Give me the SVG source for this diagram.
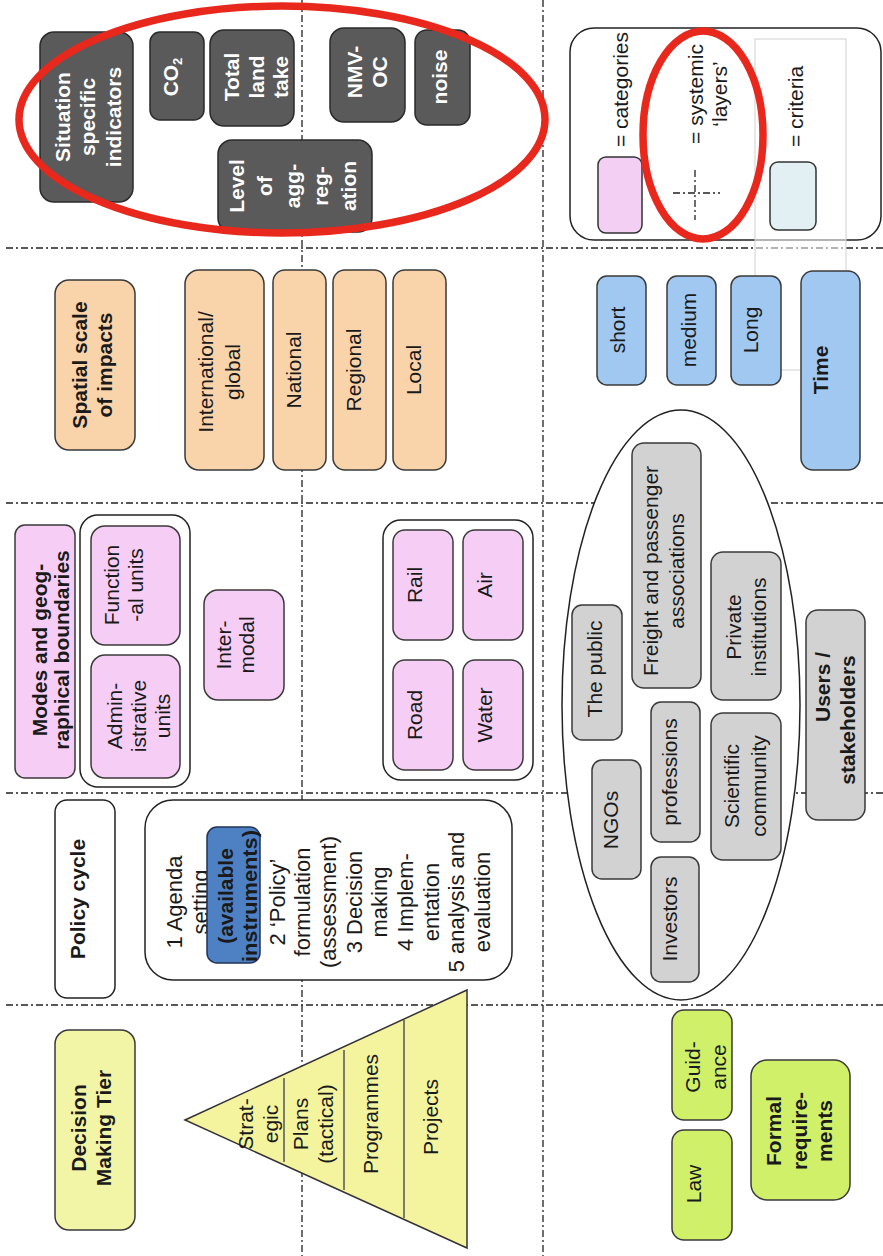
<svg xmlns="http://www.w3.org/2000/svg" width="883" height="1256" viewBox="0 0 883 1256">
<style>
text{font-family:"Liberation Sans",Arial,sans-serif;font-size:21px;fill:#1a1a1a;text-anchor:middle}
.b{font-weight:bold}
.w{fill:#fff}
.st{text-anchor:start}
.pc{font-size:22px}
.grid{stroke:#222;stroke-width:1.3;stroke-dasharray:7 3 2 3;fill:none}
.dk{fill:#5a5a5a;stroke:#2a2a2a;stroke-width:1.5}
.pe{fill:#f9d4ab;stroke:#3a3a3a;stroke-width:1.5}
.pk{fill:#f6cef5;stroke:#3a3a3a;stroke-width:1.5}
.bl{fill:#a0c8f0;stroke:#3a3a3a;stroke-width:1.5}
.gr{fill:#d2d2d2;stroke:#3a3a3a;stroke-width:1.5}
.ye{fill:#f3f5a6;stroke:#3a3a3a;stroke-width:1.5}
.gn{fill:#d0f06a;stroke:#3a3a3a;stroke-width:1.5}
.wh{fill:#fff;stroke:#222;stroke-width:1.5}
.red{fill:none;stroke:#e8281c;stroke-width:7.5}
.div{stroke:#555;stroke-width:1.5}
</style>
<rect width="883" height="1256" fill="#fff"/>

<g id="layer-lines">
<line class="grid" x1="6" y1="248" x2="883" y2="248"/>
<line class="grid" x1="6" y1="503" x2="883" y2="503"/>
<line class="grid" x1="6" y1="793" x2="883" y2="793"/>
<line class="grid" x1="6" y1="1005" x2="883" y2="1005"/>
<line class="grid" x1="302" y1="0" x2="302" y2="1256"/>
<line class="grid" x1="543" y1="0" x2="543" y2="1256"/>
</g>

<g id="legend">
<rect class="wh" x="570" y="28" width="311" height="212" rx="24"/>
<rect x="598" y="157" width="44" height="76" rx="8" fill="#f3d0f3" stroke="#333" stroke-width="1.5"/>
<text class="st" transform="translate(627.5,147) rotate(-90)">= categories</text>
<line class="grid" x1="695" y1="170" x2="695" y2="220"/>
<line class="grid" x1="673" y1="193" x2="720" y2="193"/>
<text transform="translate(703,94) rotate(-90)"><tspan x="0" y="0">= systemic</tspan><tspan x="0" dy="24">‘layers’</tspan></text>
<rect x="755" y="39" width="91" height="331" fill="#fff" fill-opacity="0.55" stroke="#d0d0d0"/>
<rect x="770" y="162" width="46" height="68" rx="8" fill="#e3f0f3" stroke="#333" stroke-width="1.5"/>
<text class="st" transform="translate(803,147) rotate(-90)">= criteria</text>
<ellipse class="red" cx="703" cy="135" rx="60" ry="104"/>
</g>

<g id="situation-specific-indicators">
<rect class="dk" x="40" y="32" width="93" height="170" rx="14"/>
<text class="b w" transform="translate(69.5,117) rotate(-90)"><tspan x="0" y="0">Situation</tspan><tspan x="0" dy="25.5">specific</tspan><tspan x="0" dy="25.5">indicators</tspan></text>
</g>
<g id="co2">
<rect class="dk" x="150" y="32" width="54" height="88" rx="10"/>
<text class="b w" transform="translate(178,77) rotate(-90)">CO<tspan font-size="13" dy="4">2</tspan></text>
</g>
<g id="total-land-take">
<rect class="dk" x="210" y="30" width="84" height="96" rx="14"/>
<text class="b w" transform="translate(239,77) rotate(-90)"><tspan x="0" y="0">Total</tspan><tspan x="0" dy="24.5">land</tspan><tspan x="0" dy="24.5">take</tspan></text>
</g>
<g id="level-of-aggregation">
<rect class="dk" x="218" y="140" width="154" height="92" rx="14"/>
<text class="b w" transform="translate(243.5,186) rotate(-90)"><tspan x="0" y="0">Level</tspan><tspan x="0" dy="28">of</tspan><tspan x="0" dy="28">agg-</tspan><tspan x="0" dy="28">reg-</tspan><tspan x="0" dy="28">ation</tspan></text>
</g>
<g id="nmvoc">
<rect class="dk" x="330" y="28" width="75" height="94" rx="14"/>
<text class="b w" transform="translate(361.5,72) rotate(-90)"><tspan x="0" y="0">NMV-</tspan><tspan x="0" dy="25">OC</tspan></text>
</g>
<g id="noise">
<rect class="dk" x="415" y="30" width="55" height="95" rx="12"/>
<text class="b w" transform="translate(446.5,77) rotate(-90)">noise</text>
</g>

<g id="spatial-scale">
<rect class="pe" x="55" y="280" width="80" height="170" rx="14"/>
<text class="b" transform="translate(86.5,365) rotate(-90)"><tspan x="0" y="0">Spatial scale</tspan><tspan x="0" dy="25">of  impacts</tspan></text>
</g>
<g id="international">
<rect class="pe" x="185" y="270" width="79" height="200" rx="14"/>
<text transform="translate(213,372) rotate(-90)"><tspan x="0" y="0">International/</tspan><tspan x="0" dy="26.5">global</tspan></text>
</g>
<g id="national">
<rect class="pe" x="273" y="270" width="53" height="200" rx="12"/>
<text transform="translate(300.5,370) rotate(-90)">National</text>
</g>
<g id="regional">
<rect class="pe" x="333" y="270" width="53" height="200" rx="12"/>
<text transform="translate(360.5,370) rotate(-90)">Regional</text>
</g>
<g id="local">
<rect class="pe" x="393" y="270" width="53" height="200" rx="12"/>
<text transform="translate(420.5,370) rotate(-90)">Local</text>
</g>

<g id="short">
<rect class="bl" x="597" y="276" width="49" height="109" rx="10"/>
<text transform="translate(624.5,330) rotate(-90)">short</text>
</g>
<g id="medium">
<rect class="bl" x="667" y="276" width="49" height="109" rx="10"/>
<text transform="translate(696,330) rotate(-90)">medium</text>
</g>
<g id="long">
<rect class="bl" x="731" y="276" width="50" height="109" rx="10"/>
<text transform="translate(757.5,330) rotate(-90)">Long</text>
</g>
<g id="time">
<rect class="bl" x="801" y="271" width="59" height="199" rx="12"/>
<text class="b" transform="translate(827.5,370) rotate(-90)">Time</text>
</g>

<g id="modes-header">
<rect class="pk" x="15" y="525" width="60" height="253" rx="10"/>
<text class="b" transform="translate(46.5,650) rotate(-90)"><tspan x="0" y="0">Modes and geog-</tspan><tspan x="0" dy="22">raphical boundaries</tspan></text>
</g>
<g id="units-group">
<rect class="wh" x="80" y="515" width="110" height="272" rx="18"/>
<g id="functional-units">
<rect class="pk" x="91" y="526" width="89" height="119" rx="14"/>
<text transform="translate(118.5,585) rotate(-90)"><tspan x="0" y="0">Function</tspan><tspan x="0" dy="24">-al units</tspan></text>
</g>
<g id="administrative-units">
<rect class="pk" x="91" y="655" width="89" height="123" rx="14"/>
<text transform="translate(121.5,716) rotate(-90)"><tspan x="0" y="0">Admin-</tspan><tspan x="0" dy="24">istrative</tspan><tspan x="0" dy="24">units</tspan></text>
</g>
</g>
<g id="intermodal">
<rect class="pk" x="204" y="590" width="80" height="110" rx="14"/>
<text transform="translate(231,645) rotate(-90)"><tspan x="0" y="0">Inter-</tspan><tspan x="0" dy="23">modal</tspan></text>
</g>
<g id="modes-group">
<rect class="wh" x="383" y="520" width="150" height="260" rx="18"/>
<g id="rail"><rect class="pk" x="393" y="530" width="60" height="110" rx="12"/><text transform="translate(421.5,585) rotate(-90)">Rail</text></g>
<g id="air"><rect class="pk" x="463" y="530" width="60" height="110" rx="12"/><text transform="translate(491.5,585) rotate(-90)">Air</text></g>
<g id="road"><rect class="pk" x="393" y="660" width="60" height="110" rx="12"/><text transform="translate(421.5,715) rotate(-90)">Road</text></g>
<g id="water"><rect class="pk" x="463" y="660" width="60" height="110" rx="12"/><text transform="translate(491.5,715) rotate(-90)">Water</text></g>
</g>

<g id="stakeholders-group">
<ellipse class="wh" cx="681" cy="705" rx="119" ry="295"/>
<g id="the-public"><rect class="gr" x="572" y="605" width="50" height="135" rx="10"/><text transform="translate(602,669) rotate(-90)">The public</text></g>
<g id="freight"><rect class="gr" x="632" y="443" width="69" height="245" rx="12"/><text transform="translate(657.5,571) rotate(-90)"><tspan x="0" y="0">Freight and passenger</tspan><tspan x="0" dy="26">associations</tspan></text></g>
<g id="private"><rect class="gr" x="711" y="552" width="70" height="148" rx="12"/><text transform="translate(740.5,627) rotate(-90)"><tspan x="0" y="0">Private</tspan><tspan x="0" dy="25.5">institutions</tspan></text></g>
<g id="professions"><rect class="gr" x="651" y="702" width="49" height="140" rx="10"/><text transform="translate(677,772) rotate(-90)">professions</text></g>
<g id="ngos"><rect class="gr" x="592" y="760" width="49" height="119" rx="10"/><text transform="translate(618,820) rotate(-90)">NGOs</text></g>
<g id="scientific"><rect class="gr" x="711" y="713" width="70" height="147" rx="12"/><text transform="translate(739,786) rotate(-90)"><tspan x="0" y="0">Scientific</tspan><tspan x="0" dy="27">community</tspan></text></g>
<g id="investors"><rect class="gr" x="651" y="857" width="48" height="125" rx="10"/><text transform="translate(676.5,919) rotate(-90)">Investors</text></g>
</g>
<g id="users-stakeholders">
<rect class="gr" x="806" y="610" width="59" height="210" rx="12"/>
<text class="b" transform="translate(829.5,715) rotate(-90)"><tspan x="28" y="0">Users /</tspan><tspan x="-5" dy="25">stakeholders</tspan></text>
</g>

<g id="policy-cycle">
<rect class="wh" x="55" y="800" width="60" height="198" rx="12"/>
<text class="b" transform="translate(84.5,899) rotate(-90)">Policy cycle</text>
</g>
<g id="policy-stages">
<rect class="wh" x="145" y="800" width="367" height="180" rx="28"/>
<text class="pc" transform="translate(182,902) rotate(-90)"><tspan x="0" y="0">1 Agenda</tspan><tspan x="0" dy="25.67">setting</tspan><tspan x="0" dy="77">2 ‘Policy’</tspan><tspan x="0" dy="25.67">formulation</tspan><tspan x="0" dy="25.67">(assessment)</tspan><tspan x="0" dy="25.67">3 Decision</tspan><tspan x="0" dy="25.67">making</tspan><tspan x="0" dy="25.67">4 Implem-</tspan><tspan x="0" dy="25.67">entation</tspan><tspan x="0" dy="25.67">5 analysis and</tspan><tspan x="0" dy="25.67">evaluation</tspan></text>
<g id="available-instruments">
<rect x="207" y="827" width="53" height="136" rx="10" fill="#4e80c4" stroke="#223355" stroke-width="1.5"/>
<text class="b" transform="translate(233,896) rotate(-90)"><tspan x="0" y="0">(available</tspan><tspan x="0" dy="24" textLength="132" lengthAdjust="spacingAndGlyphs">instruments)</tspan></text>
</g>
</g>

<g id="decision-making-tier">
<rect class="ye" x="55" y="1030" width="80" height="200" rx="14"/>
<text class="b" transform="translate(85.5,1128) rotate(-90)"><tspan x="0" y="0">Decision</tspan><tspan x="0" dy="25">Making Tier</tspan></text>
</g>
<g id="tier-pyramid">
<polygon points="185,1120 467,990 467,1248" fill="#f4f49e" stroke="#333" stroke-width="1.5"/>
<line class="div" x1="284" y1="1078" x2="284" y2="1162"/>
<line class="div" x1="344" y1="1050" x2="344" y2="1190"/>
<line class="div" x1="404" y1="1020" x2="404" y2="1218"/>
<text transform="translate(252.5,1124) rotate(-90)"><tspan x="0" y="0">Strat-</tspan><tspan x="0" dy="25">egic</tspan></text>
<text transform="translate(308,1124) rotate(-90)"><tspan x="0" y="0">Plans</tspan><tspan x="0" dy="25">(tactical)</tspan></text>
<text transform="translate(378,1114) rotate(-90)">Programmes</text>
<text transform="translate(438,1117) rotate(-90)">Projects</text>
</g>

<g id="guidance">
<rect class="gn" x="672" y="1010" width="60" height="110" rx="12"/>
<text transform="translate(700,1067) rotate(-90)"><tspan x="0" y="0">Guid-</tspan><tspan x="0" dy="25.5">ance</tspan></text>
</g>
<g id="law">
<rect class="gn" x="672" y="1130" width="60" height="110" rx="12"/>
<text transform="translate(700.5,1184) rotate(-90)">Law</text>
</g>
<g id="formal-requirements">
<rect class="gn" x="751" y="1060" width="99" height="140" rx="16"/>
<text class="b" transform="translate(781,1131) rotate(-90)"><tspan x="0" y="0">Formal</tspan><tspan x="0" dy="25.5">require-</tspan><tspan x="0" dy="25.5">ments</tspan></text>
</g>

<ellipse id="highlight" class="red" cx="282" cy="119.5" rx="263" ry="113.5"/>
</svg>
